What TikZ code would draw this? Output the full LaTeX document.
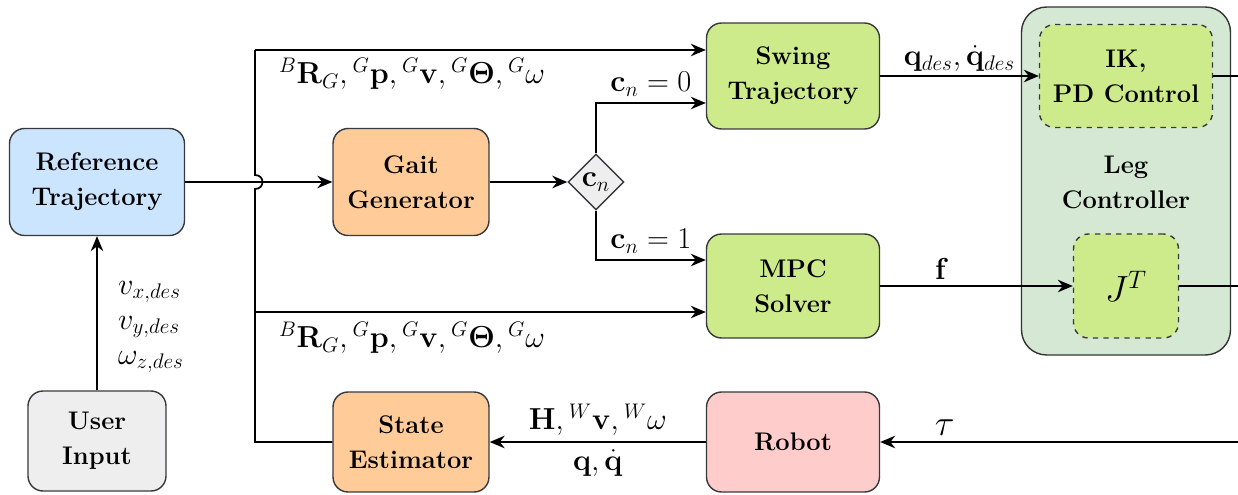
\documentclass[tikz,border=0pt]{standalone}
\usepackage{amsmath}
\usetikzlibrary{arrows.meta,shapes.geometric}
\definecolor{refblue}{HTML}{CCE5FF}
\definecolor{gaitorange}{HTML}{FFCC99}
\definecolor{ctrlgreen}{HTML}{CDEB8B}
\definecolor{robotpink}{HTML}{FFCCCC}
\definecolor{usergray}{HTML}{EEEEEE}
\definecolor{leggreen}{HTML}{D5E8D4}
\definecolor{edgegray}{HTML}{36393D}
\begin{document}
\begin{tikzpicture}[x=0.02cm,y=-0.02cm,
    font=\fontsize{17}{20}\selectfont,
    block/.style={draw=edgegray, line width=0.8pt, rounded corners=0.3cm, align=center,
        font=\fontsize{14.5}{20}\selectfont\bfseries, inner sep=0pt},
    inner/.style={block, dashed, fill=ctrlgreen},
    lbl/.style={inner sep=1pt},
    arr/.style={line width=1pt, -{Stealth[length=0.3cm,width=0.25cm]}},
    wire/.style={line width=1pt}]
    \useasboundingbox (0,0) rectangle (1238,494);
    % Leg controller container
    \node[block, fill=leggreen, draw=black!80, rounded corners=0.5cm, minimum width=4.18cm, minimum height=6.96cm] (leg) at (1126,181) {};
    \node[font=\fontsize{14.5}{20}\selectfont\bfseries, align=center] (legtxt) at (1126,182) {Leg\\Controller};
    \node[inner, minimum width=3.46cm, minimum height=2.06cm] (ik) at (1126,76) {IK,\\PD Control};
    \node[inner, minimum width=2.1cm, minimum height=2.08cm] (jt) at (1126,286) {\fontsize{21}{24}\selectfont$J^T$};
    % Blocks
    \node[block, fill=refblue, minimum width=3.5cm, minimum height=2.14cm] (ref) at (97,182) {Reference\\Trajectory};
    \node[block, fill=usergray, minimum width=2.76cm, minimum height=2cm] (user) at (97,441) {User\\Input};
    \node[block, fill=gaitorange, minimum width=3.12cm, minimum height=2.14cm] (gait) at (411,182) {Gait\\Generator};
    \node[block, fill=gaitorange, minimum width=3.12cm, minimum height=2cm] (est) at (411,442) {State\\Estimator};
    \node[block, fill=ctrlgreen, minimum width=3.46cm, minimum height=2.12cm] (swing) at (793,76) {Swing\\Trajectory};
    \node[block, fill=ctrlgreen, minimum width=3.46cm, minimum height=2.08cm] (mpc) at (793,286) {MPC\\Solver};
    \node[block, fill=robotpink, minimum width=3.46cm, minimum height=2cm] (robot) at (793,442) {Robot};
    \node[diamond, draw=edgegray, line width=0.8pt, fill=usergray, minimum size=1.12cm, inner sep=0pt, aspect=1] (cn) at (596,182) {$\mathbf{c}_n$};
    % Bus and free ends
    \coordinate (bust) at (255,50);
    \coordinate (busm) at (255,312);
    \coordinate (busb) at (255,442);
    \coordinate (ikout) at (1238,76);
    \coordinate (jtout) at (1238,286);
    \coordinate (tauin) at (1238,442);
    % Connectors
    \draw[arr] (user) -- (ref);
    \node[anchor=west, align=left] (vdes) at (112,327) {$v_{x,des}$\\$v_{y,des}$\\$\omega_{z,des}$};
    \draw[arr] (ref) -- (gait);
    \draw[wire] (est) -- (busb) -- (255,189) .. controls (265,189) and (265,175) .. (255,175) -- (bust);
    \draw[arr] (bust) -- (bust -| swing.west);
    \draw[arr] (busm) -- (busm -| mpc.west);
    \node (toplbl) at (412,74) {${}^{B}\mathbf{R}_{G},{}^{G}\mathbf{p},{}^{G}\mathbf{v},{}^{G}\boldsymbol{\Theta},{}^{G}\omega$};
    \node (botlbl) at (412,338) {${}^{B}\mathbf{R}_{G},{}^{G}\mathbf{p},{}^{G}\mathbf{v},{}^{G}\boldsymbol{\Theta},{}^{G}\omega$};
    \draw[arr] (gait) -- (cn);
    \draw[arr] (cn.north) |- ([yshift=-0.54cm]swing.west) node[pos=0.75, above] {$\mathbf{c}_n=0$};
    \draw[arr] (cn.south) |- ([yshift=0.52cm]mpc.west) node[pos=0.75, above] {$\mathbf{c}_n=1$};
    \draw[arr] (swing) -- (ik) node[lbl, midway, above=1pt] {$\mathbf{q}_{des},\dot{\mathbf{q}}_{des}$};
    \draw[arr] (mpc) -- (jt) node[pos=0.32, above] {$\mathbf{f}$};
    \draw[wire] (ik) -- (ikout);
    \draw[wire] (jt) -- (jtout);
    \draw[arr] (tauin) -- (robot) node[pos=0.82, above] {\fontsize{21}{24}\selectfont$\tau$};
    \draw[arr] (robot) -- (est) node[lbl, midway, above=2pt] {$\mathbf{H},{}^{W}\mathbf{v},{}^{W}\omega$}
        node[lbl, midway, below=3pt] {$\mathbf{q},\dot{\mathbf{q}}$};
\end{tikzpicture}
\end{document}
